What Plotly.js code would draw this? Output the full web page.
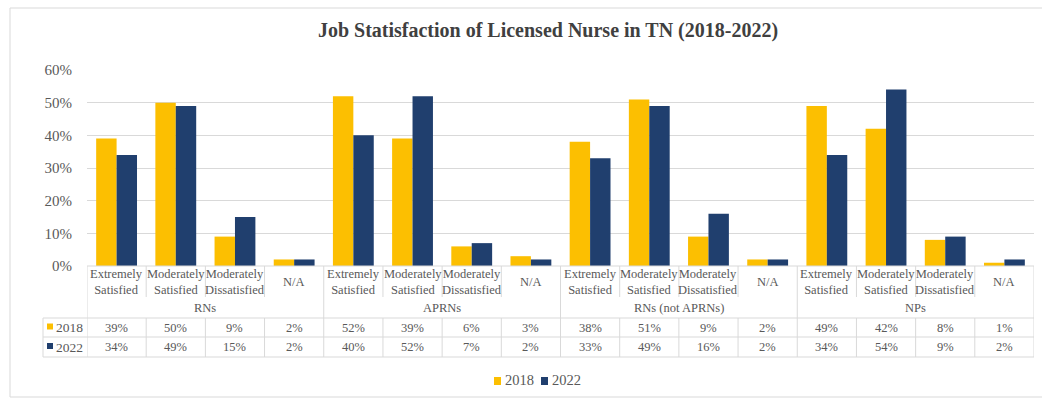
<!DOCTYPE html>
<html>
<head>
<meta charset="utf-8">
<script src="https://cdn.plot.ly/plotly-3.0.1.min.js"></script>
<style>html,body{margin:0;padding:0;background:#fff;}#chart{width:1042px;height:402px;}</style>
</head>
<body>
<div id="chart"></div>
<script>
// ---- data ----
const groups = ["RNs", "APRNs", "RNs (not APRNs)", "NPs"];
const responses = ["Extremely<br>Satisfied", "Moderately<br>Satisfied", "Moderately<br>Dissatisfied", "N/A"];
const series = ["2018", "2022"];
const values2018 = [39, 50, 9, 2, 52, 39, 6, 3, 38, 51, 9, 2, 49, 42, 8, 1];
const values2022 = [34, 49, 15, 2, 40, 52, 7, 2, 33, 49, 16, 2, 34, 54, 9, 2];
const yTicks = [0, 10, 20, 30, 40, 50, 60];

// ---- layout helpers ----
const W = 1042, H = 402;
const L = 87, R = 1034, T = 70, B = 266;
const colors = ["#FCBF01", "#203F6E"];
const textCol = "#595959";
const lineCol = "#D9D9D9";
const serif = "Liberation Serif, Times New Roman, serif";
const px = x => (x - L) / (R - L);      // pixel x -> paper
const py = y => (B - y) / (B - T);      // pixel y -> paper

const nCat = values2018.length;
const xIdx = values2018.map((_, i) => i);
const catLabels = xIdx.map(i => responses[i % responses.length]);

const traces = [
  {type: "bar", name: series[0], x: xIdx, y: values2018, marker: {color: colors[0]}, showlegend: false, hovertemplate: "%{y}%<extra>2018</extra>"},
  {type: "bar", name: series[1], x: xIdx, y: values2022, marker: {color: colors[1]}, showlegend: false, hovertemplate: "%{y}%<extra>2022</extra>"}
];

// table rows (pixel y)
const rCatTop = 266, rCatBot = 297, rGrpBot = 318, r1Bot = 337, r2Bot = 357;
const keyLeft = 43;

const shapes = [];
const ann = [];
function hline(x0, x1, y, xref) {
  shapes.push({type: "line", xref: xref || "x", yref: "paper", x0: x0, x1: x1, y0: py(y), y1: py(y), line: {color: lineCol, width: 1}});
}
function vline(x, y0, y1, xref) {
  shapes.push({type: "line", xref: xref || "x", yref: "paper", x0: x, x1: x, y0: py(y0), y1: py(y1), line: {color: lineCol, width: 1}});
}
// outer chart frame
shapes.push({type: "rect", xref: "paper", yref: "paper", x0: px(10), x1: px(1048), y0: py(8), y1: py(397), line: {color: "#D9D9D9", width: 1}, layer: "below"});

// table horizontal lines
hline(-0.5, nCat - 0.5, rCatTop);
[rGrpBot, r1Bot, r2Bot].forEach(y => {
  shapes.push({type: "line", xref: "paper", yref: "paper", x0: px(keyLeft), x1: 1, y0: py(y), y1: py(y), line: {color: lineCol, width: 1}});
});
// vertical lines
for (let k = 0; k <= nCat; k++) {
  const x = k - 0.5;
  const isGroupEdge = (k % responses.length === 0);
  if (isGroupEdge) vline(x, rCatTop, r2Bot);
  else { vline(x, rCatTop, rCatBot); vline(x, rGrpBot, r2Bot); }
}
vline(px(keyLeft), rGrpBot, r2Bot, "paper");

// category labels
xIdx.forEach(i => {
  ann.push({xref: "x", yref: "paper", x: i, y: py((rCatTop + rCatBot) / 2), text: catLabels[i], showarrow: false, font: {family: serif, size: 12.5, color: textCol}, align: "center", xanchor: "center", yanchor: "middle"});
  ann.push({xref: "x", yref: "paper", x: i, y: py((rGrpBot + r1Bot) / 2), text: values2018[i] + "%", showarrow: false, font: {family: serif, size: 12.5, color: textCol}, xanchor: "center", yanchor: "middle"});
  ann.push({xref: "x", yref: "paper", x: i, y: py((r1Bot + r2Bot) / 2), text: values2022[i] + "%", showarrow: false, font: {family: serif, size: 12.5, color: textCol}, xanchor: "center", yanchor: "middle"});
});
// group labels
groups.forEach((g, k) => {
  ann.push({xref: "x", yref: "paper", x: k * responses.length + (responses.length - 1) / 2, y: py((rCatBot + rGrpBot) / 2), text: g, showarrow: false, font: {family: serif, size: 12.5, color: textCol}, xanchor: "center", yanchor: "middle"});
});
// table keys
[[rGrpBot, r1Bot], [r1Bot, r2Bot]].forEach((r, k) => {
  const cy = (r[0] + r[1]) / 2;
  shapes.push({type: "rect", xref: "paper", yref: "paper", x0: px(47), x1: px(53), y0: py(cy + 2), y1: py(cy - 4), fillcolor: colors[k], line: {width: 0}});
  ann.push({xref: "paper", yref: "paper", x: px(54), y: py(cy), text: series[k], showarrow: false, font: {family: serif, size: 13.5, color: textCol}, xanchor: "left", yanchor: "middle"});
});
// bottom legend
[[494, 503], [541, 550]].forEach((p, k) => {
  shapes.push({type: "rect", xref: "paper", yref: "paper", x0: px(p[0]), x1: px(p[0] + 7), y0: py(385), y1: py(377), fillcolor: colors[k], line: {width: 0}});
  ann.push({xref: "paper", yref: "paper", x: px(p[1]), y: py(380), text: series[k], showarrow: false, font: {family: serif, size: 14.5, color: textCol}, xanchor: "left", yanchor: "middle"});
});

const layout = {
  width: W, height: H,
  margin: {l: L, r: W - R, t: T, b: H - B, pad: 0},
  paper_bgcolor: "#FFFFFF", plot_bgcolor: "#FFFFFF",
  font: {family: serif, color: textCol},
  title: {text: "Job Statisfaction of Licensed Nurse in TN (2018-2022)", font: {family: serif, size: 20, color: "#404040", weight: "bold"}, x: 548 / W, xanchor: "center", xref: "container", y: 1 - 30 / H, yanchor: "middle", yref: "container"},
  barmode: "group", bargap: 0.31, bargroupgap: 0,
  xaxis: {range: [-0.5, nCat - 0.5], showticklabels: false, showgrid: false, zeroline: false, ticks: "", fixedrange: true},
  yaxis: {range: [0, 60], tickvals: yTicks, ticktext: yTicks.map(v => v + "%"), showgrid: true, gridcolor: lineCol, gridwidth: 1, zeroline: false, ticks: "", ticklabelstandoff: 14, tickfont: {family: serif, size: 15, color: textCol}, fixedrange: true},
  shapes: shapes,
  annotations: ann,
  showlegend: false
};

Plotly.newPlot("chart", traces, layout, {displayModeBar: false, staticPlot: true});
</script>
</body>
</html>
